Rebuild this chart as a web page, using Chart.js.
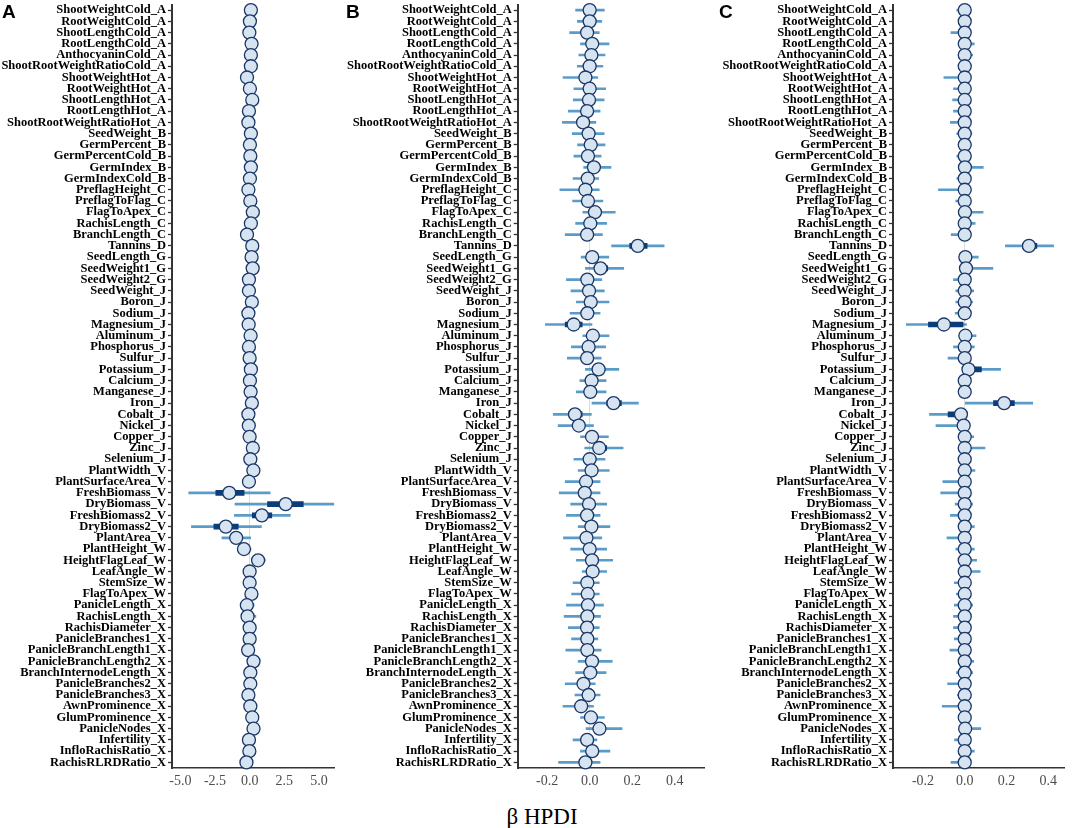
<!DOCTYPE html>
<html>
<head>
<meta charset="utf-8">
<script src="https://cdn.jsdelivr.net/npm/chart.js@4.4.1/dist/chart.umd.min.js"></script>
<style>
  body { margin: 0; background: #fff; width: 1072px; height: 828px; position: relative; overflow: hidden; }
  .panel { position: absolute; top: -5px; height: 797px; }
  .letter { position: absolute; top: 2px; font: bold 19px "Liberation Sans", Arial, sans-serif; line-height: 1; color: #000; }
  #xtitle { position: absolute; top: 805px; left: 442px; width: 200px; text-align: center;
            font: 23px "Liberation Serif", "Times New Roman", serif; line-height: 1; color: #000; }
</style>
</head>
<body>
<div class="panel" style="left:0px;width:342px"><canvas id="chartA"></canvas></div>
<div class="panel" style="left:346px;width:366px"><canvas id="chartB"></canvas></div>
<div class="panel" style="left:721px;width:351px"><canvas id="chartC"></canvas></div>
<div class="letter" style="left:2px">A</div>
<div class="letter" style="left:346px">B</div>
<div class="letter" style="left:719px">C</div>
<div id="xtitle">β HPDI</div>

<script>
const traits = ['ShootWeightCold_A', 'RootWeightCold_A', 'ShootLengthCold_A', 'RootLengthCold_A', 'AnthocyaninCold_A',
  'ShootRootWeightRatioCold_A', 'ShootWeightHot_A', 'RootWeightHot_A', 'ShootLengthHot_A', 'RootLengthHot_A',
  'ShootRootWeightRatioHot_A', 'SeedWeight_B', 'GermPercent_B', 'GermPercentCold_B', 'GermIndex_B', 'GermIndexCold_B',
  'PreflagHeight_C', 'PreflagToFlag_C', 'FlagToApex_C', 'RachisLength_C', 'BranchLength_C', 'Tannins_D',
  'SeedLength_G', 'SeedWeight1_G', 'SeedWeight2_G', 'SeedWeight_J', 'Boron_J', 'Sodium_J', 'Magnesium_J',
  'Aluminum_J', 'Phosphorus_J', 'Sulfur_J', 'Potassium_J', 'Calcium_J', 'Manganese_J', 'Iron_J', 'Cobalt_J',
  'Nickel_J', 'Copper_J', 'Zinc_J', 'Selenium_J', 'PlantWidth_V', 'PlantSurfaceArea_V', 'FreshBiomass_V',
  'DryBiomass_V', 'FreshBiomass2_V', 'DryBiomass2_V', 'PlantArea_V', 'PlantHeight_W', 'HeightFlagLeaf_W',
  'LeafAngle_W', 'StemSize_W', 'FlagToApex_W', 'PanicleLength_X', 'RachisLength_X', 'RachisDiameter_X',
  'PanicleBranches1_X', 'PanicleBranchLength1_X', 'PanicleBranchLength2_X', 'BranchInternodeLength_X',
  'PanicleBranches2_X', 'PanicleBranches3_X', 'AwnProminence_X', 'GlumProminence_X', 'PanicleNodes_X',
  'Infertility_X', 'InfloRachisRatio_X', 'RachisRLRDRatio_X'];

// panel A
const meanA = [0.09, 0.02, -0.02, 0.14, 0.09, 0.09, -0.19, 0.02, 0.19, -0.05,
  -0.09, 0.09, 0.02, 0.05, 0.09, 0.02, -0.09, 0.05, 0.23, 0.09,
  -0.19, 0.19, 0.14, 0.22, -0.05, -0.05, 0.16, -0.09, -0.07, 0.07,
  -0.05, 0.00, 0.09, 0.02, 0.07, 0.16, -0.09, -0.06, 0.00, 0.23,
  0.05, 0.27, -0.05, -1.47, 2.60, 0.88, -1.72, -0.97, -0.41, 0.61,
  0.00, 0.00, 0.13, -0.20, -0.15, 0.00, 0.00, -0.11, 0.28, 0.05,
  0.05, -0.09, 0.05, 0.19, 0.28, -0.05, -0.02, -0.23];
const loA = [-0.20, -0.28, -0.32, -0.15, -0.22, -0.20, -0.50, -0.27, -0.10, -0.35,
  -0.40, -0.20, -0.28, -0.25, -0.20, -0.28, -0.40, -0.25, -0.06, -0.20,
  -0.48, -0.10, -0.15, -0.08, -0.35, -0.35, -0.14, -0.40, -0.37, -0.22,
  -0.35, -0.30, -0.20, -0.28, -0.22, -0.14, -0.40, -0.36, -0.30, -0.06,
  -0.25, -0.02, -0.35, -4.39, -1.06, -1.10, -4.20, -2.00, -0.75, 0.12,
  -0.30, -0.30, -0.16, -0.50, -0.45, -0.30, -0.30, -0.40, -0.02, -0.25,
  -0.25, -0.40, -0.25, -0.10, -0.02, -0.35, -0.32, -0.53];
const hiA = [0.38, 0.32, 0.28, 0.44, 0.38, 0.38, 0.10, 0.32, 0.48, 0.25,
  0.20, 0.38, 0.32, 0.35, 0.38, 0.32, 0.20, 0.35, 0.52, 0.38,
  0.10, 0.48, 0.44, 0.52, 0.25, 0.25, 0.46, 0.20, 0.22, 0.37,
  0.25, 0.30, 0.38, 0.32, 0.37, 0.46, 0.20, 0.24, 0.30, 0.52,
  0.35, 0.56, 0.25, 1.48, 6.10, 2.93, 0.85, 0.07, 0.10, 1.13,
  0.30, 0.30, 0.42, 0.33, 0.45, 0.30, 0.30, 0.18, 0.58, 0.35,
  0.35, 0.20, 0.35, 0.48, 0.58, 0.25, 0.28, 0.06];
const thickLoA = traits.map(() => null);
const thickHiA = traits.map(() => null);
thickLoA[43] = -2.44; thickHiA[43] = -0.40;
thickLoA[44] = 1.29;  thickHiA[44] = 3.87;
thickLoA[45] = 0.19;  thickHiA[45] = 1.60;
thickLoA[46] = -2.58; thickHiA[46] = -0.82;
const ticksA = [-5, -2.5, 0, 2.5, 5];

// panel B
const meanB = [0.000, 0.000, -0.012, 0.012, 0.008, 0.000, -0.020, 0.000, -0.003, -0.012,
  -0.031, -0.005, 0.005, -0.008, 0.020, -0.009, -0.020, -0.008, 0.025, 0.003,
  -0.012, 0.226, 0.012, 0.051, -0.011, -0.003, 0.005, -0.011, -0.075, 0.015,
  -0.005, -0.012, 0.042, 0.009, 0.003, 0.112, -0.069, -0.051, 0.011, 0.045,
  0.000, 0.009, -0.017, -0.023, -0.003, -0.012, 0.008, -0.015, 0.000, 0.011,
  0.014, -0.011, -0.009, -0.008, -0.011, -0.012, -0.011, -0.011, 0.011, 0.003,
  -0.029, -0.005, -0.040, 0.006, 0.046, -0.012, 0.012, -0.020];
const loB = [-0.066, -0.058, -0.094, -0.043, -0.051, -0.058, -0.125, -0.074, -0.077, -0.100,
  -0.128, -0.082, -0.057, -0.074, -0.028, -0.078, -0.140, -0.080, -0.032, -0.066,
  -0.115, 0.103, -0.040, -0.020, -0.109, -0.088, -0.063, -0.092, -0.208, -0.032,
  -0.086, -0.105, -0.020, -0.046, -0.063, 0.011, -0.171, -0.148, -0.043, -0.023,
  -0.074, -0.054, -0.115, -0.143, -0.089, -0.109, -0.054, -0.123, -0.089, -0.063,
  -0.035, -0.078, -0.085, -0.109, -0.120, -0.100, -0.085, -0.112, -0.054, -0.066,
  -0.115, -0.069, -0.125, -0.043, -0.017, -0.078, -0.043, -0.146];
const hiB = [0.069, 0.057, 0.045, 0.091, 0.072, 0.062, 0.038, 0.075, 0.068, 0.049,
  0.029, 0.068, 0.072, 0.054, 0.100, 0.042, 0.045, 0.062, 0.120, 0.080,
  0.060, 0.350, 0.090, 0.160, 0.057, 0.069, 0.091, 0.049, 0.011, 0.091,
  0.075, 0.054, 0.137, 0.077, 0.077, 0.229, 0.008, 0.018, 0.088, 0.157,
  0.072, 0.092, 0.049, 0.049, 0.080, 0.049, 0.095, 0.057, 0.080, 0.108,
  0.080, 0.045, 0.045, 0.065, 0.051, 0.045, 0.038, 0.054, 0.106, 0.077,
  0.026, 0.049, 0.018, 0.069, 0.152, 0.034, 0.095, 0.049];
const thickLoB = traits.map(() => null);
const thickHiB = traits.map(() => null);
thickLoB[21] = 0.188;  thickHiB[21] = 0.270;
thickLoB[23] = 0.034;  thickHiB[23] = 0.085;
thickLoB[28] = -0.115; thickHiB[28] = -0.035;
thickLoB[35] = 0.080;  thickHiB[35] = 0.149;
thickLoB[36] = -0.097; thickHiB[36] = -0.035;
thickLoB[39] = 0.026;  thickHiB[39] = 0.080;
thickLoB[64] = 0.026;  thickHiB[64] = 0.075;
const ticksB = [-0.2, 0, 0.2, 0.4];

// panel C
const meanC = [0, 0, 0, 0, 0, 0, 0, 0, 0, 0,
  0, 0, 0, 0, 0.001, 0, 0, 0, 0.001, 0,
  0, 0.308, 0.003, 0.006, 0, 0, 0, 0, -0.100, 0.003,
  0, 0, 0.018, 0, 0, 0.189, -0.018, -0.005, 0, 0,
  0, 0, 0, 0, 0, 0, 0, 0, 0, 0,
  0, 0, 0, 0, 0, 0, 0, 0, 0, 0,
  0, 0, 0, 0, 0.002, 0, 0, 0];
const loC = [-0.038, -0.020, -0.066, -0.020, -0.020, -0.020, -0.100, -0.054, -0.058, -0.054,
  -0.069, -0.038, -0.020, -0.038, -0.020, -0.038, -0.126, -0.043, -0.020, -0.020,
  -0.065, 0.195, -0.020, -0.020, -0.054, -0.043, -0.043, -0.046, -0.280, -0.020,
  -0.054, -0.080, -0.005, -0.020, -0.020, 0.003, -0.169, -0.138, -0.020, -0.020,
  -0.030, -0.020, -0.105, -0.115, -0.046, -0.069, -0.020, -0.085, -0.043, -0.020,
  -0.020, -0.050, -0.040, -0.050, -0.054, -0.054, -0.050, -0.071, -0.020, -0.040,
  -0.082, -0.035, -0.108, -0.020, -0.020, -0.049, -0.020, -0.066];
const hiC = [0.020, 0.020, 0.020, 0.046, 0.038, 0.020, 0.020, 0.020, 0.020, 0.020,
  0.020, 0.034, 0.020, 0.020, 0.089, 0.020, 0.020, 0.020, 0.088, 0.050,
  0.020, 0.426, 0.065, 0.135, 0.020, 0.043, 0.038, 0.020, 0.008, 0.054,
  0.046, 0.020, 0.172, 0.020, 0.020, 0.326, 0.005, 0.020, 0.043, 0.097,
  0.020, 0.049, 0.020, 0.020, 0.038, 0.020, 0.046, 0.020, 0.046, 0.057,
  0.074, 0.020, 0.020, 0.038, 0.020, 0.020, 0.020, 0.020, 0.043, 0.038,
  0.020, 0.020, 0.020, 0.020, 0.077, 0.020, 0.046, 0.020];
const thickLoC = traits.map(() => null);
const thickHiC = traits.map(() => null);
thickLoC[21] = 0.277;  thickHiC[21] = 0.346;
thickLoC[28] = -0.174; thickHiC[28] = -0.008;
thickLoC[32] = -0.003; thickHiC[32] = 0.080;
thickLoC[35] = 0.138;  thickHiC[35] = 0.238;
thickLoC[36] = -0.080; thickHiC[36] = 0.000;
const ticksC = [-0.2, 0, 0.2, 0.4];

const thinColor = '#5b9bc8';
const thickColor = '#0a3d7a';
const dotFill = '#d5e4f0';
const dotEdge = '#1c3766';

function pairs(lo, hi) {
  return lo.map((v, i) => (v === null ? null : [v, hi[i]]));
}

function makePanel(id, mean, lo, hi, tlo, thi, ticks, xmin, xmax, yWidth, padRight) {
  const ctx = document.getElementById(id).getContext('2d');
  return new Chart(ctx, {
    type: 'bar',
    data: {
      labels: traits,
      datasets: [
        {
          type: 'line',
          data: mean,
          showLine: false,
          pointRadius: 6.5,
          pointBackgroundColor: dotFill,
          pointBorderColor: dotEdge,
          pointBorderWidth: 1.3,
          order: 0
        },
        {
          data: pairs(tlo, thi),
          backgroundColor: thickColor,
          barThickness: 5,
          grouped: false,
          borderWidth: 0,
          order: 1
        },
        {
          data: pairs(lo, hi),
          backgroundColor: thinColor,
          barThickness: 2,
          grouped: false,
          borderWidth: 0,
          order: 2
        }
      ]
    },
    options: {
      indexAxis: 'y',
      responsive: true,
      maintainAspectRatio: false,
      animation: false,
      layout: { padding: { left: 0, right: padRight, top: 0, bottom: 0 } },
      plugins: { legend: { display: false }, tooltip: { enabled: false } },
      scales: {
        x: {
          type: 'linear',
          min: xmin,
          max: xmax,
          afterBuildTicks: (scale) => { scale.ticks = ticks.map(v => ({ value: v })); },
          afterFit: (scale) => { scale.height = 24; },
          border: { display: true, color: '#333', width: 1.5 },
          grid: {
            drawTicks: false,
            color: (c) => (c.tick && c.tick.value === 0 ? '#dcdcdc' : 'rgba(0,0,0,0)'),
            lineWidth: 1
          },
          ticks: {
            padding: 5,
            color: '#4d4d4d',
            font: { family: '"Liberation Serif", "Times New Roman", serif', size: 14 },
            callback: (v) => Number(v).toFixed(1)
          }
        },
        y: {
          type: 'category',
          offset: true,
          afterFit: (scale) => { scale.width = yWidth; },
          border: { display: true, color: '#333', width: 2 },
          grid: {
            offset: false,
            drawOnChartArea: false,
            drawTicks: true,
            tickLength: 4,
            tickColor: '#333',
            tickWidth: 1.3
          },
          ticks: {
            autoSkip: false,
            padding: 2,
            color: '#000',
            font: { family: '"Liberation Serif", "Times New Roman", serif', size: 12.5, weight: 'bold' }
          }
        }
      }
    }
  });
}

makePanel('chartA', meanA, loA, hiA, thickLoA, thickHiA, ticksA, -5.6, 6.1, 172, 2.5);
makePanel('chartB', meanB, loB, hiB, thickLoB, thickHiB, ticksB, -0.338, 0.538, 171.7, 4.3);
makePanel('chartC', meanC, loC, hiC, thickLoC, thickHiC, ticksC, -0.344, 0.477, 172, 2);
</script>
</body>
</html>
